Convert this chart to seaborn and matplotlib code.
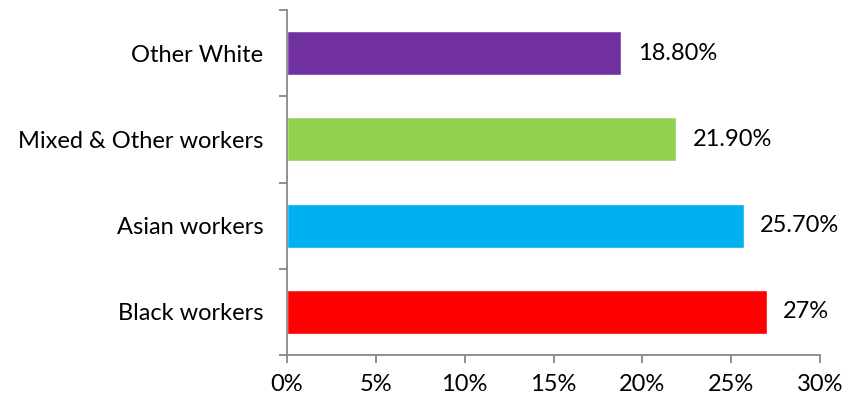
import matplotlib
matplotlib.use("Agg")
import matplotlib.pyplot as plt
from matplotlib.ticker import FixedLocator, PercentFormatter
import seaborn as sns
import pandas as pd

# Share of workers by ethnic group
groups = ["Other White", "Mixed & Other workers", "Asian workers", "Black workers"]
shares = [18.8, 21.9, 25.7, 27.0]
value_labels = ["18.80%", "21.90%", "25.70%", "27%"]
bar_colors = ["#7030A0", "#92D050", "#00B0F0", "#FF0000"]

df = pd.DataFrame({"group": groups, "share": shares})

sns.set_theme(style="white")
plt.rcParams["font.family"] = ["Lato", "DejaVu Sans"]

fig = plt.figure(figsize=(8.46, 4.04), dpi=100)
ax = fig.add_axes([287 / 846, 1 - 355 / 404, (820 - 287) / 846, (355 - 10) / 404])

sns.barplot(data=df, y="group", x="share", hue="group", palette=bar_colors,
            order=groups, hue_order=groups, orient="h", width=0.51,
            legend=False, ax=ax, saturation=1)

ax.set_xlim(0, 30)
ax.set_ylim(len(groups) - 0.5, -0.5)
ax.set_xlabel("")
ax.set_ylabel("")
ax.xaxis.set_major_locator(FixedLocator([0, 5, 10, 15, 20, 25, 30]))
ax.xaxis.set_major_formatter(PercentFormatter(decimals=0))

# Tick marks on the category boundaries, labels at the centres
ax.yaxis.set_minor_locator(FixedLocator([i - 0.5 for i in range(len(groups) + 1)]))
ax.tick_params(axis="y", which="major", length=0, pad=17, labelsize=17, labelcolor="black")
ax.tick_params(axis="y", which="minor", left=True, length=6, width=1.3, color="#888888")
ax.tick_params(axis="x", which="major", bottom=True, length=6, width=1.3, color="#888888",
               pad=8, labelsize=17, labelcolor="black")

for side in ["top", "right"]:
    ax.spines[side].set_visible(False)
for side in ["left", "bottom"]:
    ax.spines[side].set_color("#888888")
    ax.spines[side].set_linewidth(1.3)

for i, (v, lab) in enumerate(zip(shares, value_labels)):
    ax.annotate(lab, xy=(v, i), xytext=(12, 0), textcoords="offset points",
                va="center", ha="left", fontsize=17, color="black")

fig.savefig("out.png", dpi=100)
